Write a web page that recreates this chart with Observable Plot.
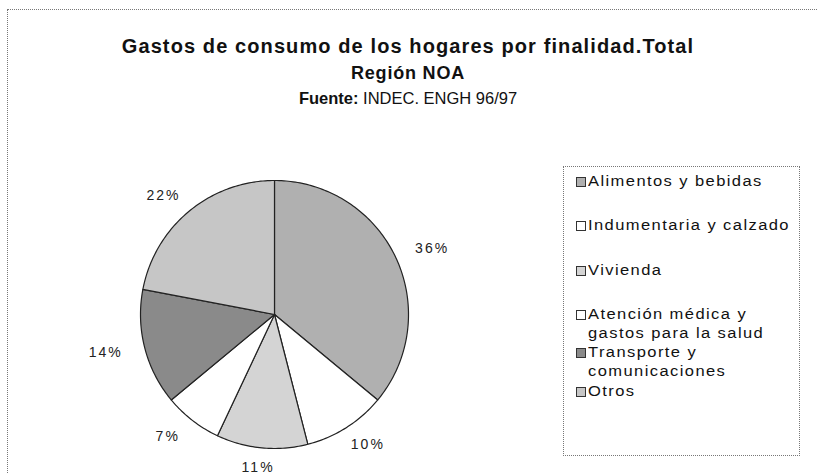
<!DOCTYPE html>
<html>
<head>
<meta charset="utf-8">
<script src="https://cdn.jsdelivr.net/npm/d3@7"></script>
<script src="https://cdn.jsdelivr.net/npm/@observablehq/plot@0.6"></script>
<style>
  html, body { margin: 0; padding: 0; background: #fff; }
  #wrap { position: relative; width: 818px; height: 474px; overflow: hidden; font-family: "Liberation Sans", Arial, sans-serif; color: #111; }
  #frame { position: absolute; left: 7px; top: 9px; width: 820px; height: 480px; border: 1px dotted #777; box-sizing: border-box; }
  .t { position: absolute; left: 0; width: 816px; text-align: center; white-space: nowrap; }
  #t1 { top: 34px; font-size: 20px; font-weight: bold; letter-spacing: 1.1px; line-height: 24px; }
  #t2 { top: 61px; font-size: 18px; font-weight: bold; letter-spacing: 0.8px; line-height: 24px; }
  #t3 { top: 86px; font-size: 16.5px; letter-spacing: 0px; line-height: 24px; }
  #t3 b { font-weight: bold; }
  #chart { position: absolute; left: 0; top: 120px; }
  #chart text { letter-spacing: 2px; }
  #legend { position: absolute; left: 563px; top: 166px; width: 237px; height: 290px; border: 1px dotted #777; box-sizing: border-box; }
  .li { position: absolute; left: 12px; font-size: 14px; line-height: 19px; white-space: nowrap; }
  .sw { position: absolute; left: 0; top: 5px; width: 8px; height: 8px; border: 1px solid #333; }
  .lt { position: absolute; left: 12px; top: 0; letter-spacing: 1.2px; transform: scaleX(1.18); transform-origin: 0 0; }
</style>
</head>
<body>
<div id="wrap">
  <div id="frame"></div>
  <div class="t" id="t1">Gastos de consumo de los hogares por finalidad.Total</div>
  <div class="t" id="t2">Región NOA</div>
  <div class="t" id="t3"><b>Fuente:</b> INDEC. ENGH 96/97</div>
  <div id="chart"></div>
  <div id="legend"></div>
</div>
<script>
// ---- data ----
const categories = [
  "Alimentos y bebidas",
  "Indumentaria y calzado",
  "Vivienda",
  "Atención médica y gastos para la salud",
  "Transporte y comunicaciones",
  "Otros"
];
const legendLines = [
  ["Alimentos y bebidas"],
  ["Indumentaria y calzado"],
  ["Vivienda"],
  ["Atención médica y", "gastos para la salud"],
  ["Transporte y", "comunicaciones"],
  ["Otros"]
];
const shares = [36, 10, 11, 7, 14, 22];
const labels = ["36%", "10%", "11%", "7%", "14%", "22%"];
const fills = ["#b0b0b0", "#ffffff", "#d4d4d4", "#ffffff", "#8a8a8a", "#c6c6c6"];

// ---- layout ----
const W = 818, H = 354;
const CX = 274, CY = 194, R = 134;   // pie center & radius in svg px

const arcs = d3.pie().sort(null).value(d => d)(shares);
const pts = [];
arcs.forEach((a, i) => {
  const name = categories[i];
  pts.push({name, x: 0, y: 0});
  const n = Math.max(2, Math.ceil((a.endAngle - a.startAngle) / (Math.PI / 180)));
  for (let k = 0; k <= n; k++) {
    const t = a.startAngle + (a.endAngle - a.startAngle) * k / n;
    pts.push({name, x: Math.sin(t), y: Math.cos(t)});
  }
  pts.push({name, x: 0, y: 0});
});
const lab = arcs.map((a, i) => {
  const m = (a.startAngle + a.endAngle) / 2;
  return {label: labels[i], x: 1.3 * Math.sin(m), y: 1.15 * Math.cos(m)};
});

const plot = Plot.plot({
  width: W, height: H,
  margin: 0,
  x: {domain: [-CX / R, (W - CX) / R], range: [0, W], axis: null},
  y: {domain: [-(H - CY) / R, CY / R], range: [H, 0], axis: null},
  color: {domain: categories, range: fills},
  style: {fontFamily: "'Liberation Sans', Arial, sans-serif", background: "transparent"},
  marks: [
    Plot.line(pts, {x: "x", y: "y", z: "name", fill: "name", stroke: "#222", strokeWidth: 1.2, strokeLinejoin: "round"}),
    Plot.text(lab, {x: "x", y: "y", text: "label", fontSize: 14, fill: "#222"})
  ]
});
document.getElementById("chart").appendChild(plot);

// ---- legend ----
const rowTops = [5, 49, 94, 138, 176, 215];
const leg = document.getElementById("legend");
legendLines.forEach((lines, i) => {
  const d = document.createElement("div");
  d.className = "li";
  d.style.top = rowTops[i] + "px";
  const s = document.createElement("div");
  s.className = "sw";
  s.style.background = fills[i];
  d.appendChild(s);
  const t = document.createElement("div");
  t.className = "lt";
  t.innerHTML = lines.join("<br>");
  d.appendChild(t);
  leg.appendChild(d);
});
</script>
</body>
</html>
